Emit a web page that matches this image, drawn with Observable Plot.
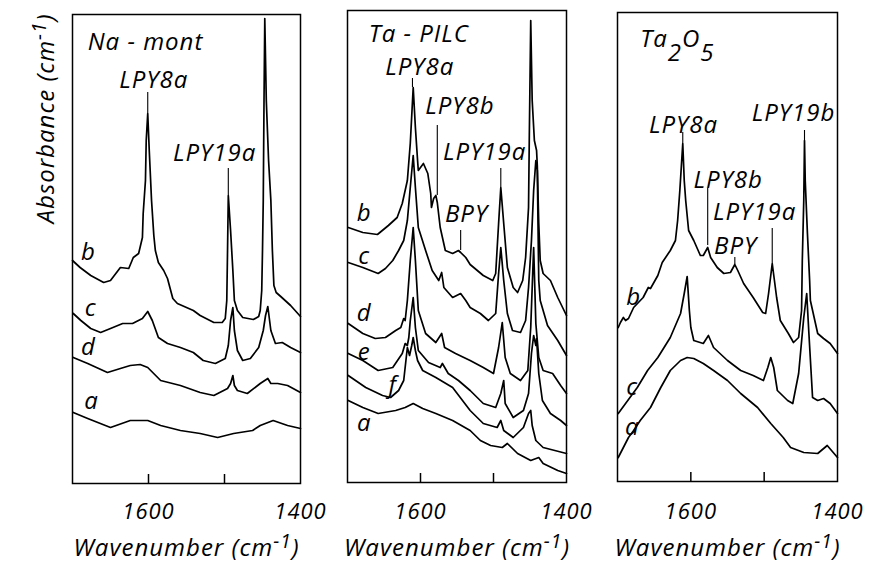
<!DOCTYPE html>
<html><head><meta charset="utf-8">
<script src="https://cdn.jsdelivr.net/npm/d3@7"></script>
<script src="https://cdn.jsdelivr.net/npm/@observablehq/plot@0.6"></script>
<style>
body{margin:0;background:#fff;}
#chart{position:relative;width:871px;height:574px;overflow:hidden;background:#fff;}
#chart svg{position:absolute;top:0;}
</style></head><body><div id="chart"></div>
<script>
// ---------- data: [wavenumber (cm-1), absorbance (a.u.)] ----------
const xTickLabels = [1600, 1400];
const xTickMarks = [1600, 1500];
const xTitle = "Wavenumber (cm-1)";
const yTitle = "Absorbance (cm-1)";

// Panel 1: Na-mont
const naMontB = [[1700,2.40],[1690,2.33],[1676,2.25],[1659,2.18],[1650,2.20],[1637,2.33],[1626,2.32],[1620,2.43],[1613,2.47],[1608,2.63],[1607,2.87],[1604,3.20],[1603,3.60],[1601,3.87],[1599,3.50],[1596,3.00],[1593,2.65],[1591,2.50],[1587,2.38],[1580,2.30],[1575,2.22],[1568,2.02],[1562,1.97],[1541,1.90],[1532,1.85],[1514,1.78],[1503,1.78],[1499,1.82],[1497,2.00],[1496,2.50],[1495,3.05],[1492,2.70],[1489,2.30],[1487,2.00],[1483,1.90],[1476,1.83],[1462,1.81],[1455,1.84],[1453,1.90],[1451,2.10],[1450,2.50],[1449,3.00],[1448,4.00],[1447,4.82],[1445,4.00],[1442,3.40],[1439,3.00],[1437,2.50],[1435,2.15],[1432,2.08],[1426,2.04],[1413,1.95],[1400,1.84]];
const naMontC = [[1699,1.87],[1689,1.80],[1676,1.72],[1663,1.68],[1650,1.72],[1634,1.77],[1621,1.77],[1608,1.82],[1601,1.89],[1595,1.80],[1587,1.63],[1575,1.57],[1558,1.53],[1541,1.48],[1528,1.40],[1512,1.37],[1499,1.42],[1495,1.55],[1492,1.80],[1489,1.93],[1487,1.70],[1483,1.50],[1476,1.40],[1466,1.42],[1455,1.53],[1449,1.70],[1446,1.85],[1443,1.94],[1439,1.70],[1433,1.57],[1424,1.58],[1413,1.53],[1400,1.48]];
const naMontD = [[1699,1.43],[1680,1.37],[1654,1.28],[1637,1.32],[1624,1.35],[1611,1.36],[1601,1.33],[1584,1.20],[1558,1.15],[1532,1.08],[1514,1.05],[1496,1.12],[1492,1.17],[1489,1.25],[1487,1.15],[1483,1.10],[1470,1.07],[1453,1.17],[1443,1.22],[1439,1.17],[1430,1.17],[1417,1.15],[1400,1.08]];
const naMontA = [[1699,0.88],[1680,0.82],[1650,0.73],[1624,0.80],[1601,0.80],[1584,0.75],[1558,0.70],[1532,0.67],[1509,0.63],[1488,0.67],[1463,0.70],[1453,0.75],[1436,0.80],[1417,0.75],[1400,0.72]];
const naMontCurveLabels = [{t:"b",w:1679,a:2.48},{t:"c",w:1676,a:1.92},{t:"d",w:1679,a:1.53},{t:"a",w:1675,a:0.99}];
const naMontBands = [{t:"LPY8a",w:1593,a:4.20},{t:"LPY19a",w:1513,a:3.47}];
const naMontLeaders = [{w:1601,a1:4.08,a2:3.87},{w:1495,a1:3.32,a2:3.05}];
const naMontTitle = [{t:"Na - mont",w:1680,a:4.58}];

// Panel 2: Ta-PILC
const pilcB = [[1699,2.73],[1679,2.68],[1659,2.66],[1644,2.75],[1632,2.83],[1625,2.97],[1618,3.20],[1614,3.57],[1610,4.13],[1607,3.73],[1604,3.40],[1603,3.30],[1599,3.34],[1596,3.37],[1590,3.27],[1586,3.07],[1585,2.93],[1582,3.02],[1579,3.05],[1577,2.98],[1573,2.73],[1566,2.50],[1556,2.47],[1548,2.50],[1545,2.48],[1538,2.43],[1532,2.36],[1514,2.25],[1501,2.20],[1497,2.27],[1493,2.77],[1490,3.13],[1486,2.77],[1481,2.33],[1473,2.13],[1467,2.08],[1460,2.20],[1456,2.43],[1452,2.93],[1451,3.60],[1449,4.80],[1447,4.00],[1444,3.60],[1441,3.50],[1440,3.35],[1438,2.77],[1436,2.40],[1432,2.27],[1422,2.20],[1412,2.03],[1400,1.85]];
const pilcC = [[1699,2.38],[1679,2.33],[1658,2.27],[1648,2.32],[1638,2.40],[1630,2.50],[1623,2.60],[1618,2.80],[1614,3.13],[1610,3.45],[1607,3.13],[1603,2.73],[1593,2.50],[1584,2.30],[1575,2.20],[1571,2.28],[1568,2.13],[1556,2.03],[1545,2.07],[1538,2.00],[1532,1.93],[1518,1.87],[1507,1.80],[1497,1.87],[1493,2.27],[1490,2.53],[1486,2.20],[1481,1.87],[1474,1.70],[1463,1.68],[1456,1.80],[1452,2.13],[1448,2.60],[1445,3.10],[1442,3.40],[1440,3.30],[1438,2.20],[1436,2.00],[1426,1.75],[1412,1.60],[1400,1.45]];
const pilcD = [[1699,1.77],[1679,1.67],[1662,1.62],[1648,1.63],[1634,1.70],[1627,1.73],[1623,1.82],[1621,1.80],[1618,2.00],[1614,2.40],[1610,2.73],[1607,2.40],[1603,1.90],[1593,1.67],[1579,1.58],[1571,1.67],[1567,1.53],[1552,1.47],[1532,1.40],[1514,1.33],[1500,1.27],[1493,1.53],[1488,1.78],[1484,1.43],[1477,1.27],[1463,1.20],[1453,1.30],[1449,1.73],[1445,2.53],[1442,1.77],[1438,1.43],[1432,1.30],[1419,1.27],[1408,1.15],[1400,1.07]];
const pilcE = [[1699,1.47],[1679,1.40],[1658,1.30],[1638,1.33],[1625,1.47],[1621,1.57],[1618,1.55],[1616,1.63],[1614,1.80],[1610,2.03],[1607,1.73],[1603,1.50],[1589,1.38],[1573,1.33],[1570,1.37],[1562,1.27],[1548,1.20],[1532,1.10],[1514,0.97],[1497,0.93],[1490,1.07],[1486,1.20],[1484,0.97],[1473,0.83],[1459,0.90],[1452,1.07],[1448,1.47],[1445,1.65],[1442,1.55],[1441,1.62],[1438,1.27],[1433,1.00],[1422,0.87],[1408,0.80],[1400,0.75]];
const pilcF = [[1699,1.25],[1675,1.13],[1652,1.05],[1641,1.03],[1630,1.10],[1623,1.20],[1618,1.53],[1615,1.45],[1612,1.55],[1610,1.63],[1607,1.50],[1604,1.40],[1597,1.30],[1579,1.23],[1556,1.13],[1532,0.90],[1514,0.77],[1495,0.73],[1490,0.80],[1486,0.70],[1473,0.63],[1459,0.73],[1452,0.87],[1449,0.90],[1447,0.75],[1442,0.60],[1432,0.53],[1400,0.47]];
const pilcA = [[1699,1.00],[1679,0.93],[1658,0.87],[1634,0.90],[1621,0.93],[1610,0.97],[1597,0.92],[1579,0.87],[1556,0.80],[1532,0.70],[1518,0.60],[1504,0.55],[1488,0.53],[1481,0.57],[1467,0.47],[1449,0.40],[1438,0.43],[1432,0.37],[1412,0.30],[1400,0.27]];
const pilcCurveLabels = [{t:"b",w:1677,a:2.87},{t:"c",w:1677,a:2.44},{t:"d",w:1677,a:1.87},{t:"e",w:1677,a:1.48},{t:"f",w:1638,a:1.15},{t:"a",w:1677,a:0.77}];
const pilcBands = [{t:"LPY8a",w:1601,a:4.33},{t:"LPY8b",w:1546,a:3.94},{t:"LPY19a",w:1512,a:3.48},{t:"BPY",w:1537,a:2.86}];
const pilcLeaders = [{w:1611,a1:4.22,a2:4.13},{w:1577,a1:3.75,a2:3.05},{w:1490,a1:3.32,a2:3.13},{w:1545,a1:2.70,a2:2.50}];
const pilcTitle = [{t:"Ta - PILC",w:1671,a:4.66}];

// Panel 3: Ta2O5
const taB = [[1699,1.73],[1696,1.78],[1692,1.83],[1689,1.80],[1685,1.82],[1678,1.93],[1665,2.03],[1658,2.13],[1655,2.12],[1645,2.25],[1639,2.38],[1628,2.50],[1621,2.60],[1618,2.80],[1615,3.10],[1611,3.57],[1609,3.20],[1607,3.00],[1603,2.70],[1596,2.60],[1587,2.45],[1583,2.45],[1577,2.53],[1573,2.43],[1564,2.33],[1555,2.27],[1546,2.28],[1540,2.36],[1536,2.30],[1528,2.17],[1515,2.03],[1502,1.88],[1498,1.87],[1494,2.07],[1491,2.25],[1489,2.37],[1486,2.20],[1483,2.03],[1478,1.80],[1467,1.67],[1460,1.58],[1453,1.63],[1449,1.90],[1448,2.40],[1446,3.00],[1445,3.60],[1444,3.20],[1441,2.67],[1438,2.20],[1437,2.00],[1427,1.67],[1419,1.62],[1410,1.57],[1400,1.47]];
const taC = [[1699,0.87],[1686,1.00],[1673,1.13],[1659,1.30],[1645,1.43],[1628,1.63],[1614,1.87],[1609,2.07],[1605,2.24],[1602,1.90],[1600,1.73],[1596,1.60],[1583,1.57],[1576,1.65],[1569,1.53],[1550,1.40],[1532,1.30],[1515,1.25],[1501,1.20],[1495,1.33],[1491,1.43],[1487,1.33],[1482,1.10],[1468,1.00],[1461,0.97],[1453,1.27],[1446,1.83],[1442,2.07],[1439,1.67],[1434,1.03],[1427,1.00],[1419,1.02],[1410,0.97],[1400,0.87]];
const taA = [[1699,0.43],[1692,0.53],[1685,0.63],[1678,0.70],[1669,0.80],[1655,0.93],[1641,1.13],[1628,1.30],[1614,1.40],[1605,1.43],[1596,1.42],[1583,1.37],[1569,1.30],[1550,1.20],[1532,1.07],[1509,0.93],[1491,0.77],[1474,0.63],[1464,0.53],[1446,0.48],[1427,0.47],[1414,0.55],[1400,0.43]];
const taCurveLabels = [{t:"b",w:1678,a:2.03},{t:"c",w:1680,a:1.13},{t:"a",w:1680,a:0.73}];
const taBands = [{t:"LPY8a",w:1610,a:3.75},{t:"LPY8b",w:1549,a:3.20},{t:"LPY19b",w:1460,a:3.87},{t:"LPY19a",w:1513,a:2.88},{t:"BPY",w:1539,a:2.54}];
const taLeaders = [{w:1611,a1:3.68,a2:3.57},{w:1577,a1:3.12,a2:2.55},{w:1445,a1:3.70,a2:3.60},{w:1489,a1:2.72,a2:2.37},{w:1540,a1:2.43,a2:2.36}];
const taTitle = [{t:"Ta2O5",w:1669,a:4.61}];

// ---------- drawing ----------
const FONT = "'Open Sans', 'DejaVu Sans', sans-serif";
const H = 574;
const X_TITLE_Y = 555; // vertical centre of the x-axis titles

function panel(o) {
  const frameH = H - o.mt - o.mb;
  const marks = [
    Plot.frame({stroke: "black", strokeWidth: 1.5}),
    Plot.tickX(xTickMarks, {x: d => d, stroke: "black", strokeWidth: 1.5, insetTop: frameH - 9}),
    Plot.axisX({ticks: xTickLabels, tickFormat: d => String(d), tickSize: 0, tickPadding: o.tp, label: null, anchor: "bottom", fontSize: 22}),
    ...o.curves.map(c => Plot.line(c, {x: d => d[0], y: d => d[1], stroke: "black", strokeWidth: 1.7, strokeLinejoin: "round"})),
    Plot.ruleX(o.leaders, {x: "w", y1: "a1", y2: "a2", stroke: "black", strokeWidth: 1.1}),
    Plot.text(o.labels, {x: "w", y: "a", text: "t"}),
    Plot.text(o.bands, {x: "w", y: "a", text: "t"}),
    Plot.text(o.title, {x: "w", y: "a", text: "t", textAnchor: "start"}),
    Plot.text([xTitle], {frameAnchor: "bottom", dy: X_TITLE_Y - (H - o.mb), text: d => d})
  ];
  if (o.yTitle) marks.push(Plot.text([yTitle], {frameAnchor: "top-left", rotate: -90, textAnchor: "end", dx: -36, dy: -1, text: d => d}));
  const svg = Plot.plot({
    width: o.width, height: H,
    marginTop: o.mt, marginBottom: o.mb, marginLeft: o.ml, marginRight: o.mr,
    style: {fontFamily: FONT, fontSize: "24px", fontStyle: "italic", letterSpacing: "1px", background: "transparent", overflow: "visible", color: "black"},
    x: {domain: [1700, 1400]},
    y: {domain: o.yDomain, axis: null},
    marks
  });
  svg.style.left = o.left + "px";
  // superscripts / subscripts
  d3.select(svg).selectAll("text").each(function() {
    const t = this.textContent;
    if (t.endsWith("(cm-1)")) {
      const s = d3.select(this);
      s.text(t.slice(0, -3));
      s.append("tspan").attr("dy", -8).attr("font-size", "0.8em").text("-1");
      s.append("tspan").attr("dy", 8).text(")");
    } else if (t === "Ta2O5") {
      const s = d3.select(this);
      s.text("Ta");
      s.append("tspan").attr("dy", 14).text("2");
      s.append("tspan").attr("dy", -14).text("O");
      s.append("tspan").attr("dy", 14).text("5");
    }
  });
  return svg;
}

const chart = document.getElementById("chart");
chart.appendChild(panel({left: 0, width: 330, ml: 72, mr: 30, mt: 14, mb: 91, tp: 20, yDomain: [0.17, 4.86],
  curves: [naMontB, naMontC, naMontD, naMontA], labels: naMontCurveLabels, bands: naMontBands, leaders: naMontLeaders, title: naMontTitle, yTitle: true}));
chart.appendChild(panel({left: 330, width: 260, ml: 17, mr: 24, mt: 10, mb: 92, tp: 21, yDomain: [0.18, 4.90],
  curves: [pilcB, pilcC, pilcD, pilcE, pilcF, pilcA], labels: pilcCurveLabels, bands: pilcBands, leaders: pilcLeaders, title: pilcTitle}));
chart.appendChild(panel({left: 590, width: 281, ml: 27, mr: 34, mt: 12, mb: 93, tp: 22, yDomain: [0.19, 4.88],
  curves: [taB, taC, taA], labels: taCurveLabels, bands: taBands, leaders: taLeaders, title: taTitle}));
</script></body></html>
